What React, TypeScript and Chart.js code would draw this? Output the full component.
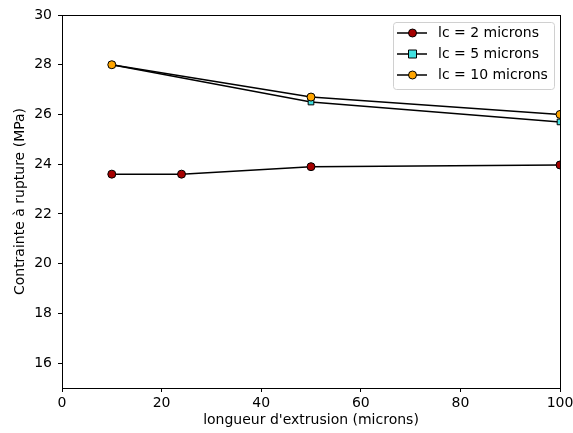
import React, { useEffect, useRef } from "react";
import { Chart, registerables } from "chart.js";

Chart.register(...registerables);

const xLc2 = [10, 24, 50, 100];
const yLc2 = [23.6, 23.6, 23.9, 23.97];
const xLc5 = [10, 50, 100];
const yLc5 = [28.0, 26.5, 25.7];
const xLc10 = [10, 50, 100];
const yLc10 = [28.0, 26.7, 26.0];
const seriesLabels = ["lc = 2 microns", "lc = 5 microns", "lc = 10 microns"];
const seriesColors = ["#a50000", "#40e0e0", "#ffa500"];
const seriesMarkers = ["circle", "rect", "circle"];
const xTitle = "longueur d'extrusion (microns)";
const yTitle = "Contrainte à rupture (MPa)";

const FONT = "'DejaVu Sans', sans-serif";

const toPts = (xs: number[], ys: number[]) => xs.map((x, i) => ({ x, y: ys[i] }));

const framePlugin = {
  id: "frameLegend",
  afterDatasetsDraw(chart: any) {
    const { ctx, chartArea } = chart;
    ctx.save();
    ctx.strokeStyle = "#000";
    ctx.lineWidth = 1;
    ctx.strokeRect(
      Math.round(chartArea.left) + 0.5,
      Math.round(chartArea.top) + 0.5,
      Math.round(chartArea.right - chartArea.left),
      Math.round(chartArea.bottom - chartArea.top)
    );
    // legend
    const bx = 393, by = 22, bw = 161, bh = 67;
    ctx.fillStyle = "rgba(255,255,255,0.8)";
    ctx.strokeStyle = "#d0d0d0";
    ctx.beginPath();
    const r = 3;
    ctx.moveTo(bx + r, by + 0.5);
    ctx.arcTo(bx + bw + 0.5, by + 0.5, bx + bw + 0.5, by + bh + 0.5, r);
    ctx.arcTo(bx + bw + 0.5, by + bh + 0.5, bx + 0.5, by + bh + 0.5, r);
    ctx.arcTo(bx + 0.5, by + bh + 0.5, bx + 0.5, by + 0.5, r);
    ctx.arcTo(bx + 0.5, by + 0.5, bx + bw + 0.5, by + 0.5, r);
    ctx.closePath();
    ctx.fill();
    ctx.stroke();
    const rows = [33, 54, 75];
    seriesLabels.forEach((lab, i) => {
      const y = rows[i];
      ctx.strokeStyle = "#000";
      ctx.lineWidth = 1.5;
      ctx.beginPath();
      ctx.moveTo(397, y);
      ctx.lineTo(427, y);
      ctx.stroke();
      ctx.fillStyle = seriesColors[i];
      ctx.lineWidth = 1;
      ctx.beginPath();
      if (seriesMarkers[i] === "rect") {
        ctx.rect(408.5, y - 4, 8, 8);
      } else {
        ctx.arc(412.5, y, 4, 0, Math.PI * 2);
      }
      ctx.fill();
      ctx.stroke();
      ctx.fillStyle = "#000";
      ctx.font = `14px ${FONT}`;
      ctx.textBaseline = "middle";
      ctx.textAlign = "left";
      ctx.fillText(lab, 438, y + 0.5);
    });
    ctx.restore();
  },
};

export default function App() {
  const ref = useRef<HTMLCanvasElement>(null);
  useEffect(() => {
    if (!ref.current) return;
    const mk = (i: number, xs: number[], ys: number[]) => ({
      label: seriesLabels[i],
      data: toPts(xs, ys),
      showLine: true,
      borderColor: "#000",
      borderWidth: 1.5,
      pointStyle: seriesMarkers[i],
      pointRadius: 4,
      pointBackgroundColor: seriesColors[i],
      pointBorderColor: "#000",
      pointBorderWidth: 1,
      clip: 0,
      order: 3 - i,
    });
    const chart = new Chart(ref.current, {
      type: "scatter",
      data: {
        datasets: [mk(0, xLc2, yLc2), mk(1, xLc5, yLc5), mk(2, xLc10, yLc10)] as any,
      },
      plugins: [framePlugin],
      options: {
        responsive: false,
        animation: false,
        events: [],
        layout: { padding: { top: 15, right: 13, left: 0, bottom: 0 } },
        plugins: { legend: { display: false }, tooltip: { enabled: false } },
        scales: {
          x: {
            type: "linear",
            min: 0,
            max: 100,
            ticks: { stepSize: 20, color: "#000", font: { family: FONT, size: 14 }, padding: 3 },
            grid: { drawOnChartArea: false, drawTicks: true, tickLength: 4, color: "#000" },
            border: { display: true, color: "#000" },
            title: { display: true, text: xTitle, color: "#000", font: { family: FONT, size: 14 }, padding: { top: 0, bottom: 4 } },
            afterFit: (s: any) => { s.height = 45; s.paddingLeft = 0; s.paddingRight = 0; },
          },
          y: {
            type: "linear",
            min: 15,
            max: 30,
            ticks: {
              color: "#000",
              font: { family: FONT, size: 14 },
              padding: 6,
              callback: (v: any) => (v % 2 === 0 ? String(v) : ""),
              stepSize: 1,
            },
            grid: {
              drawOnChartArea: false,
              drawTicks: true,
              tickLength: 4,
              color: (c: any) => (c.tick && c.tick.value % 2 === 0 ? "#000" : "rgba(0,0,0,0)"),
            },
            border: { display: true, color: "#000" },
            title: { display: true, text: yTitle, color: "#000", font: { family: FONT, size: 14 }, padding: { top: 12, bottom: 0 } },
            afterFit: (s: any) => { s.width = 62; s.paddingTop = 0; s.paddingBottom = 0; },
          },
        },
      } as any,
    });
    return () => chart.destroy();
  }, []);
  return (
    <div style={{ position: "fixed", left: 0, top: 0, width: 573, height: 433, background: "#fff" }}>
      <canvas ref={ref} width={573} height={433} />
    </div>
  );
}
